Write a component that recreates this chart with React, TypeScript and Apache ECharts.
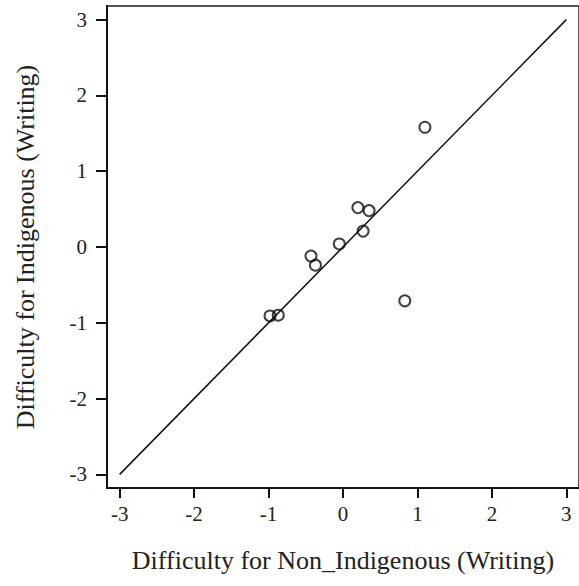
import React, { useEffect, useRef } from "react";
import * as echarts from "echarts";

const tickValues = [-3, -2, -1, 0, 1, 2, 3];
const nonIndigenous = [1.1, 0.2, 0.35, 0.27, -0.05, -0.43, -0.37, 0.83, -0.98, -0.87];
const indigenous = [1.58, 0.52, 0.48, 0.21, 0.04, -0.12, -0.24, -0.71, -0.91, -0.9];
const identityLine = [[-3, -3], [3, 3]];

export default function App() {
  const ref = useRef<HTMLDivElement>(null);
  useEffect(() => {
    if (!ref.current) return;
    const chart = echarts.init(ref.current, null, { renderer: "svg" });
    const font = "'Liberation Serif', 'Times New Roman', serif";
    const points = nonIndigenous.map((x, i) => [x, indigenous[i]]);
    chart.setOption({
      animation: false,
      backgroundColor: "#fff",
      grid: {
        left: 107,
        right: -3,
        top: 6,
        bottom: 98,
        show: true,
        borderColor: "#555",
        borderWidth: 2,
        containLabel: false,
      },
      xAxis: {
        type: "value",
        min: -3.17,
        max: 3.17,
        name: "Difficulty for Non_Indigenous (Writing)",
        nameLocation: "middle",
        nameGap: 59,
        nameTextStyle: { fontFamily: font, fontSize: 26, color: "#222" },
        axisLine: { show: true, onZero: false, lineStyle: { color: "#111", width: 2 } },
        axisTick: { show: true, length: 10, customValues: tickValues, lineStyle: { color: "#111", width: 2 } },
        axisLabel: { customValues: tickValues, fontFamily: font, fontSize: 21, color: "#222", margin: 15 },
        splitLine: { show: false },
      },
      yAxis: {
        type: "value",
        min: -3.18,
        max: 3.18,
        name: "Difficulty for Indigenous (Writing)",
        nameLocation: "middle",
        nameGap: 69,
        nameTextStyle: { fontFamily: font, fontSize: 26, color: "#222" },
        axisLine: { show: true, onZero: false, lineStyle: { color: "#111", width: 2 } },
        axisTick: { show: true, length: 11, customValues: tickValues, lineStyle: { color: "#111", width: 2 } },
        axisLabel: { customValues: tickValues, fontFamily: font, fontSize: 21, color: "#222", margin: 20 },
        splitLine: { show: false },
      },
      series: [
        {
          type: "line",
          data: identityLine,
          showSymbol: false,
          symbol: "none",
          lineStyle: { color: "#111", width: 1.5 },
          silent: true,
        },
        {
          type: "scatter",
          data: points,
          symbol: "circle",
          symbolSize: 11,
          itemStyle: { color: "transparent", borderColor: "#111", borderWidth: 2 },
        },
      ],
    });
    return () => chart.dispose();
  }, []);
  return (
    <div
      ref={ref}
      style={{ position: "absolute", left: 0, top: 0, width: 579, height: 586 }}
    />
  );
}
